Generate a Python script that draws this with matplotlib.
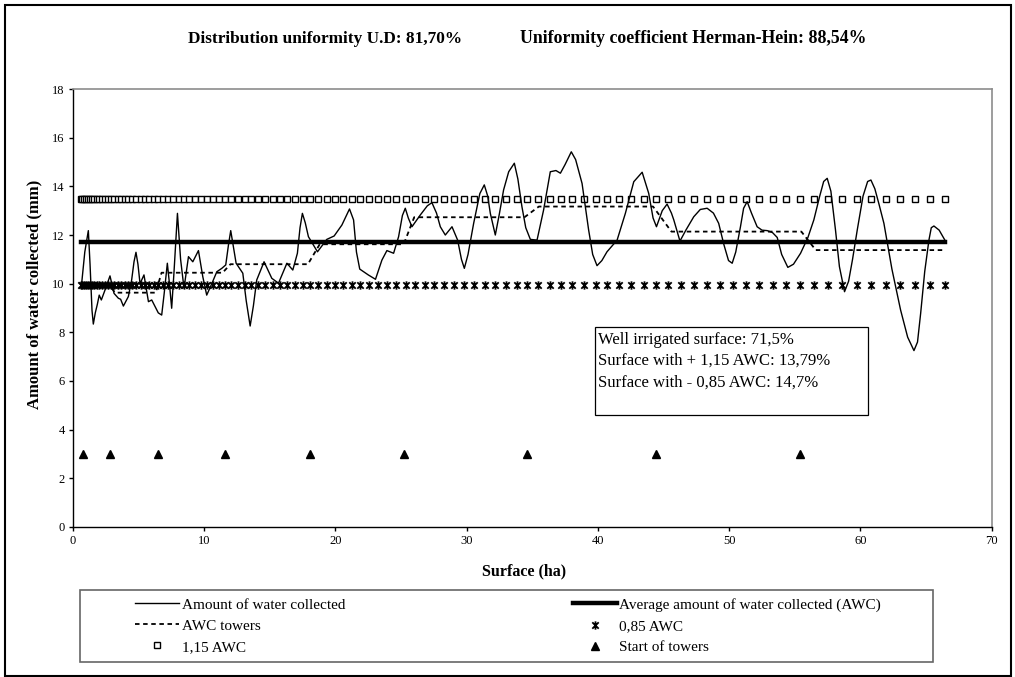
import matplotlib
matplotlib.use("Agg")
import matplotlib.pyplot as plt
from matplotlib.patches import Rectangle
from matplotlib.path import Path

plt.rcParams['font.family'] = ['Liberation Serif', 'DejaVu Serif']

# ---- data ----
# collector positions (ha), read from the marker rows
collectors_x = [0.608, 0.724, 0.849, 0.985, 1.131, 1.287, 1.453, 1.629, 1.815, 2.011,
                2.217, 2.433, 2.659, 2.895, 3.142, 3.398, 3.664, 3.941, 4.227, 4.524,
                4.831, 5.147, 5.474, 5.811, 6.158, 6.514, 6.881, 7.258, 7.645, 8.042,
                8.450, 8.867, 9.294, 9.731, 10.179, 10.636, 11.104, 11.581, 12.069, 12.566,
                13.074, 13.592, 14.120, 14.657, 15.205, 15.763, 16.331, 16.909, 17.497, 18.096,
                18.704, 19.322, 19.950, 20.589, 21.237, 21.896, 22.564, 23.243, 23.931, 24.630,
                25.339, 26.058, 26.786, 27.525, 28.274, 29.033, 29.802, 30.582, 31.371, 32.170,
                32.979, 33.799, 34.628, 35.467, 36.317, 37.176, 38.046, 38.925, 39.815, 40.715,
                41.625, 42.545, 43.475, 44.415, 45.365, 46.325, 47.295, 48.275, 49.265, 50.265,
                51.276, 52.296, 53.327, 54.367, 55.418, 56.478, 57.549, 58.630, 59.720, 60.821,
                61.932, 63.053, 64.184, 65.325, 66.476]
awc = 11.70          # average amount of water collected
awc_low = 9.95       # 0,85 AWC
awc_high = 13.46     # 1,15 AWC

# measured water (surface ha, mm)
water_x = [0.66, 0.9, 1.17, 1.3, 1.45, 1.55, 1.7, 1.86, 2.0, 2.16, 2.49, 2.82, 3.13, 3.46, 3.63,
           3.84, 4.22, 4.47, 4.65, 4.8, 4.95, 5.11, 5.41, 5.75, 6.0, 6.25, 6.5, 6.76, 6.95, 7.19,
           7.35, 7.52, 7.7, 7.96, 8.2, 8.46, 8.8, 9.13, 9.56, 9.89, 10.19, 10.57, 10.96, 11.34, 11.64,
           11.85, 12.02, 12.2, 12.43, 12.94, 13.2, 13.5, 13.75, 14.0, 14.56, 15.15, 15.66, 16.3, 16.75,
           17.1, 17.3, 17.48, 17.7, 17.94, 18.63, 19.34, 19.9, 20.49, 21.07, 21.38, 21.6, 21.85, 22.5,
           23.05, 23.54, 23.92, 24.43, 24.81, 25.1, 25.32, 25.55, 25.83, 26.46, 27.0, 27.35, 27.7,
           27.99, 28.37, 28.88, 29.31, 29.6, 29.82, 30.1, 30.53, 31.0, 31.34, 31.6, 31.8, 32.18, 32.5,
           32.81, 33.2, 33.63, 33.9, 34.21, 34.5, 34.85, 35.36, 35.86, 36.37, 36.8, 37.14, 37.5, 37.97,
           38.3, 38.79, 39.29, 39.6, 39.93, 40.3, 40.69, 41.46, 42.09, 42.73, 43.37, 43.87, 44.2, 44.46,
           44.9, 45.27, 45.6, 45.78, 46.25, 46.7, 47.3, 47.8, 48.32, 48.8, 49.2, 49.6, 49.95, 50.23,
           50.5, 50.86, 51.1, 51.37, 51.7, 52.13, 52.5, 52.9, 53.3, 53.66, 54.0, 54.47, 54.9, 55.44,
           56.0, 56.45, 56.9, 57.2, 57.47, 57.75, 58.1, 58.4, 58.79, 59.1, 59.4, 59.76, 60.2, 60.55,
           60.8, 61.1, 61.4, 61.79, 62.4, 63.06, 63.6, 64.08, 64.35, 64.59, 64.9, 65.22, 65.4, 65.6,
           66.0, 66.5]
water_y = [10.0, 11.3, 12.18, 10.8, 8.9, 8.34, 8.8, 9.16, 9.53, 9.33, 9.81, 10.32, 9.6, 9.4, 9.36,
           9.08, 9.47, 10.15, 10.9, 11.29, 10.8, 10.0, 10.36, 9.26, 9.33, 9.06, 8.8, 8.71, 9.6, 10.84,
           10.0, 8.99, 10.5, 12.89, 11.0, 9.81, 11.11, 10.9, 11.36, 10.29, 9.53, 9.99, 10.49, 10.63, 10.77,
           11.6, 12.18, 11.6, 10.84, 10.43, 9.3, 8.26, 9.1, 10.15, 10.9, 10.22, 10.02, 10.84, 10.56,
           11.25, 12.3, 12.89, 12.5, 11.93, 11.31, 11.82, 11.96, 12.41, 13.07, 12.62, 11.3, 10.6, 10.36,
           10.18, 10.97, 11.36, 11.25, 11.93, 12.8, 13.1, 12.7, 12.34, 12.82, 13.2, 13.33, 12.9,
           12.34, 12.0, 12.34, 11.79, 11.0, 10.63, 11.2, 12.48, 13.7, 14.06, 13.6, 12.89, 12.0, 12.9,
           13.85, 14.6, 14.95, 14.3, 13.16, 12.3, 11.82, 11.79, 13.03, 14.6, 14.65, 14.54, 14.9, 15.42,
           15.1, 14.12, 12.21, 11.2, 10.74, 10.95, 11.31, 11.79, 12.89, 14.19, 14.58, 13.71, 12.7, 12.34,
           13.0, 13.27, 12.9, 12.62, 11.75, 12.2, 12.75, 13.05, 13.1, 12.9, 12.48, 11.6, 10.95, 10.84,
           11.3, 12.34, 13.1, 13.37, 12.9, 12.34, 12.2, 12.18, 12.1, 11.9, 11.2, 10.67, 10.8, 11.25,
           11.9, 12.62, 13.6, 14.2, 14.33, 13.8, 12.21, 10.7, 9.67, 10.1, 11.0, 12.21, 13.6, 14.2,
           14.26, 13.9, 13.3, 12.48, 10.6, 8.92, 7.8, 7.25, 7.6, 8.78, 10.5, 11.79, 12.3, 12.37,
           12.2, 11.73]

# average per tower span
towers_x = [0.66, 2.7, 3.2, 6.3, 6.75, 11.4, 12.0, 17.9, 18.8, 25.2, 26.0, 34.4, 35.5,
            44.2, 45.6, 55.5, 56.6, 66.5]
towers_y = [10.0, 10.0, 9.63, 9.63, 10.45, 10.45, 10.8, 10.8, 11.62, 11.62, 12.73, 12.73, 13.17,
            13.17, 12.14, 12.14, 11.38, 11.38]

# start of towers
tower_start_x = [0.76, 2.85, 6.45, 11.55, 18.05, 25.25, 34.63, 44.42, 55.42]
tower_start_y = [3, 3, 3, 3, 3, 3, 3, 3, 3]

title_left = "Distribution uniformity U.D: 81,70%"
title_right = "Uniformity coefficient Herman-Hein: 88,54%"
box_lines = ["Well irrigated surface: 71,5%",
             "Surface with + 1,15 AWC: 13,79%",
             "Surface with - 0,85 AWC: 14,7%"]

# ---- figure ----
fig = plt.figure(figsize=(10.15, 6.77), dpi=100)
ax = fig.add_axes([0.0719, 0.2216, 0.9051, 0.6469])

star_path = Path([(-1, -1), (1, 1), (-1, 1), (1, -1), (0, -1.3), (0, 1.3)],
                 [Path.MOVETO, Path.LINETO, Path.MOVETO, Path.LINETO, Path.MOVETO, Path.LINETO])

n = len(collectors_x)
l_low, = ax.plot(collectors_x, [awc_low] * n, linestyle='none', marker=star_path,
                 markersize=6, markeredgewidth=1.3, color='black', label='0,85 AWC')
l_high, = ax.plot(collectors_x, [awc_high] * n, linestyle='none', marker='s',
                  markersize=4.5, markerfacecolor='white', markeredgecolor='black',
                  markeredgewidth=1.0, label='1,15 AWC')
l_avg, = ax.plot(collectors_x, [awc] * n, color='black', lw=3.2,
                 label='Average amount of water collected (AWC)')
l_tow, = ax.plot(towers_x, towers_y, color='black', lw=1.3, linestyle=(0, (2.5, 2)),
                 label='AWC towers')
l_wat, = ax.plot(water_x, water_y, color='black', lw=1.0,
                 label='Amount of water collected')
l_start, = ax.plot(tower_start_x, tower_start_y, linestyle='none', marker='^',
                   markersize=6, color='black', label='Start of towers')

ax.set_xlim(0, 70)
ax.set_ylim(0, 18)
ax.set_xticks(range(0, 71, 10))
ax.set_yticks(range(0, 19, 2))
ax.tick_params(axis='both', direction='out', length=3, width=1, labelsize=9, pad=3)
for s in ['top', 'right']:
    ax.spines[s].set_color('#8c8c8c')
    ax.spines[s].set_linewidth(1.2)
for s in ['left', 'bottom']:
    ax.spines[s].set_color('black')
    ax.spines[s].set_linewidth(1.0)

ax.set_xlabel('Surface (ha)', fontsize=11.5, fontweight='bold')
ax.set_ylabel('Amount of water collected (mm)', fontsize=12, fontweight='bold')
ax.xaxis.set_label_coords(0.491, -0.083)
ax.yaxis.set_label_coords(-0.0335, 0.53)

# text box
ax.add_patch(Rectangle((0.568, 0.2557), 0.297, 0.201, transform=ax.transAxes,
                       facecolor='white', edgecolor='black', lw=0.9, zorder=5))
for i, t in enumerate(box_lines):
    ax.text(0.572, 0.428 - i * 0.0490, t, transform=ax.transAxes, fontsize=12,
            va='center', ha='left', zorder=6)

# titles
fig.text(0.3205, 0.943, title_left, fontsize=12.4, fontweight='bold', ha='center', va='center')
fig.text(0.6828, 0.943, title_right, fontsize=12.8, fontweight='bold', ha='center', va='center')

# legend frame
fig.add_artist(Rectangle((0.0788, 0.0222), 0.8404, 0.1064, transform=fig.transFigure,
                         fill=False, edgecolor='#666666', lw=1.2))
handles = [l_wat, l_tow, l_high, l_avg, l_low, l_start]
leg = fig.legend(handles=handles, labels=[h.get_label() for h in handles], ncol=2,
                 loc='center left', bbox_to_anchor=(0.133, 0.0754),
                 frameon=False, fontsize=11, handlelength=2.9, handletextpad=0.15,
                 labelspacing=0.48, columnspacing=14.9, borderpad=0, borderaxespad=0)

# outer chart border
fig.add_artist(Rectangle((0.005, 0.002), 0.991, 0.99, transform=fig.transFigure,
                         fill=False, edgecolor='black', lw=1.5))

fig.savefig('out.png', dpi=100)
